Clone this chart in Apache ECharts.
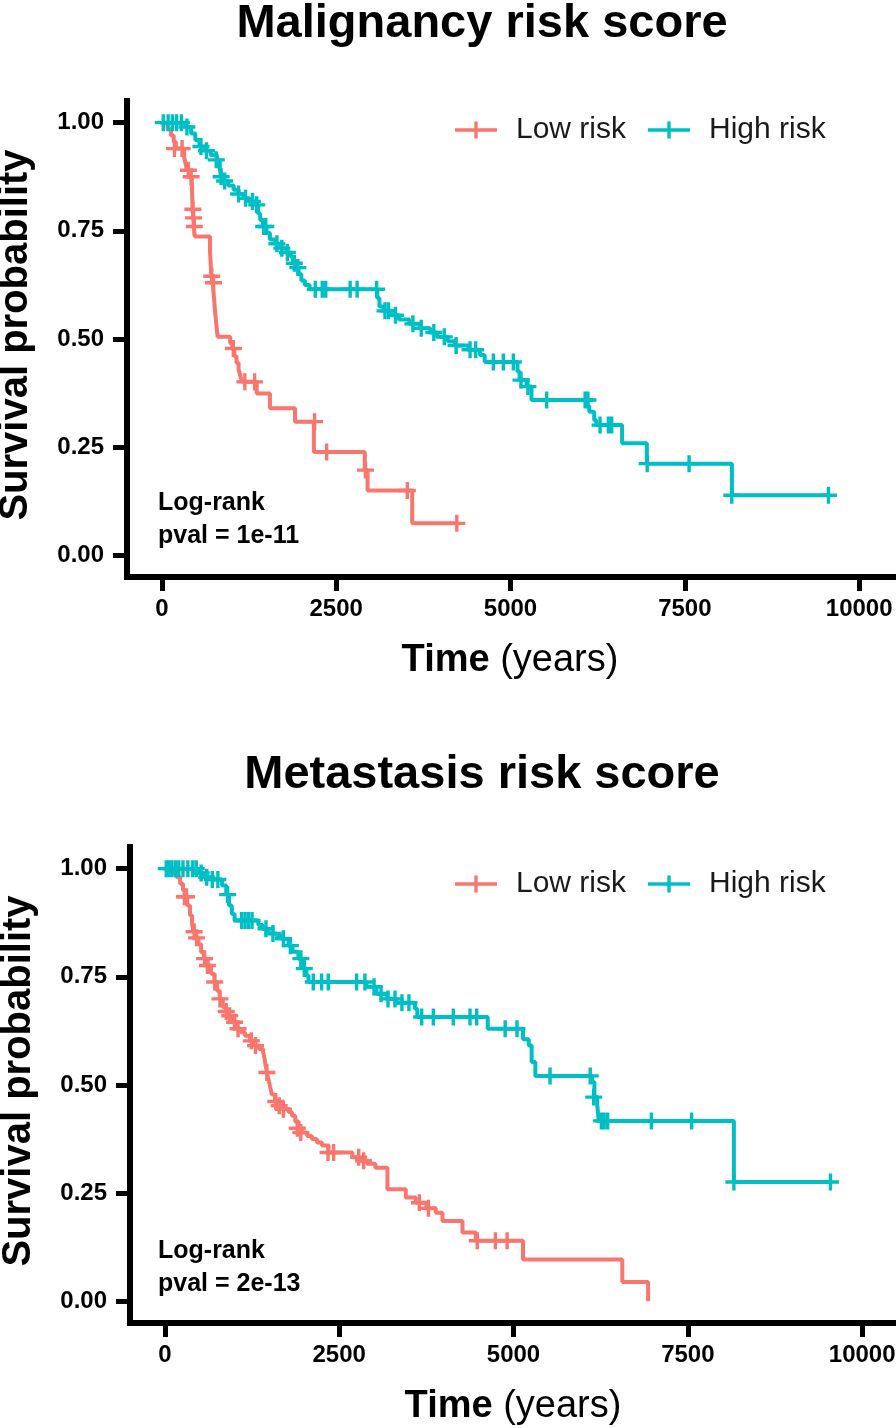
<!DOCTYPE html>
<html><head><meta charset="utf-8">
<script src="https://cdn.jsdelivr.net/npm/echarts@6/dist/echarts.min.js"></script>
<style>html,body{margin:0;padding:0;background:#fff}#c{width:896px;height:1428px}</style>
</head><body><div id="c"></div>
<script>
const xTicks = [0, 2500, 5000, 7500, 10000];
const yTicks = [0, 0.25, 0.5, 0.75, 1];
const titles = ['Malignancy risk score', 'Metastasis risk score'];
const pvals = ['pval = 1e-11', 'pval = 2e-13'];
const groups = ['Low risk', 'High risk'];

// Malignancy – Low risk
const malLowSteps = [[0,1],[80,0.985],[130,0.97],[170,0.955],[200,0.94],[320,0.92],[340,0.905],[360,0.89],[400,0.875],[430,0.862],[440,0.80],[450,0.78],[460,0.76],[470,0.737],[690,0.705],[700,0.675],[710,0.645],[730,0.63],[750,0.59],[765,0.56],[780,0.535],[800,0.505],[980,0.49],[1010,0.478],[1040,0.46],[1070,0.445],[1100,0.43],[1125,0.415],[1150,0.401],[1360,0.374],[1550,0.34],[1910,0.309],[2180,0.239],[2910,0.197],[2950,0.15],[3590,0.074],[4230,0.074]];
const malLowCensor = [[180,0.94],[290,0.94],[380,0.89],[420,0.875],[445,0.80],[455,0.78],[465,0.76],[715,0.645],[740,0.63],[1025,0.478],[1190,0.401],[1330,0.401],[2190,0.309],[2363,0.239],[2920,0.197],[3520,0.15],[4230,0.074]];
// Malignancy – High risk
const malHighSteps = [[0,1],[340,0.99],[420,0.975],[480,0.96],[540,0.945],[620,0.935],[700,0.925],[790,0.914],[830,0.895],[850,0.875],[880,0.865],[950,0.855],[1030,0.845],[1100,0.835],[1170,0.825],[1250,0.818],[1340,0.81],[1380,0.79],[1410,0.775],[1450,0.76],[1500,0.745],[1550,0.73],[1620,0.72],[1700,0.71],[1790,0.70],[1850,0.69],[1880,0.675],[1920,0.665],[1960,0.65],[2000,0.635],[2050,0.625],[2120,0.615],[3090,0.595],[3120,0.575],[3180,0.565],[3300,0.555],[3400,0.545],[3550,0.535],[3700,0.525],[3850,0.515],[3950,0.505],[4100,0.495],[4200,0.485],[4400,0.475],[4560,0.463],[4630,0.447],[5100,0.425],[5130,0.405],[5230,0.39],[5300,0.359],[6100,0.345],[6130,0.332],[6200,0.3125],[6230,0.301],[6600,0.259],[6955,0.212],[8175,0.139],[9560,0.139]];
const malHighCensor = [[20,1],[90,1],[150,1],[210,1],[280,1],[360,0.99],[560,0.945],[640,0.935],[780,0.914],[850,0.875],[900,0.865],[1100,0.835],[1200,0.825],[1300,0.818],[1360,0.81],[1460,0.76],[1490,0.76],[1650,0.72],[1720,0.71],[1800,0.70],[1900,0.675],[1950,0.665],[2200,0.615],[2300,0.615],[2350,0.615],[2700,0.615],[2800,0.615],[3080,0.615],[3200,0.565],[3250,0.565],[3350,0.555],[3600,0.535],[3720,0.525],[3900,0.515],[4050,0.505],[4220,0.485],[4420,0.475],[4500,0.475],[4753,0.447],[4897,0.447],[5040,0.447],[5150,0.405],[5250,0.39],[5519,0.359],[6070,0.359],[6110,0.359],[6284,0.301],[6403,0.301],[6451,0.301],[6960,0.212],[7561,0.212],[8173,0.139],[9560,0.139]];

// Metastasis – Low risk
const metLowSteps = [[0,1],[100,0.99],[170,0.98],[220,0.965],[260,0.95],[290,0.935],[320,0.915],[360,0.892],[390,0.872],[410,0.854],[440,0.84],[480,0.825],[520,0.807],[560,0.792],[614,0.776],[660,0.757],[710,0.738],[750,0.718],[786,0.699],[830,0.68],[870,0.67],[906,0.66],[960,0.645],[1026,0.63],[1090,0.622],[1148,0.614],[1220,0.602],[1291,0.591],[1350,0.583],[1410,0.576],[1430,0.56],[1450,0.54],[1463,0.529],[1490,0.51],[1510,0.495],[1535,0.478],[1580,0.462],[1632,0.452],[1678,0.444],[1775,0.4375],[1822,0.429],[1870,0.415],[1920,0.40],[1965,0.39],[2040,0.382],[2109,0.375],[2180,0.367],[2252,0.36],[2348,0.344],[2690,0.333],[2800,0.325],[2900,0.318],[3019,0.309],[3192,0.259],[3455,0.24],[3598,0.228],[3750,0.215],[3885,0.205],[3981,0.186],[4268,0.159],[4459,0.14],[5136,0.097],[6560,0.045],[6930,0.0]];
const metLowCensor = [[280,0.935],[310,0.935],[420,0.854],[455,0.84],[570,0.792],[610,0.776],[715,0.738],[790,0.699],[880,0.67],[930,0.66],[1000,0.645],[1050,0.63],[1240,0.602],[1300,0.591],[1463,0.529],[1590,0.462],[1640,0.452],[1700,0.444],[1900,0.40],[1950,0.39],[2340,0.344],[2420,0.344],[2780,0.333],[2850,0.325],[3650,0.228],[3780,0.215],[4480,0.14],[4740,0.14],[4908,0.14]];
// Metastasis – High risk
const metHighSteps = [[0,1],[480,0.99],[560,0.98],[700,0.975],[820,0.961],[880,0.94],[920,0.915],[960,0.895],[1000,0.88],[1340,0.87],[1400,0.861],[1486,0.85],[1600,0.845],[1678,0.838],[1773,0.822],[1830,0.808],[1915,0.792],[1987,0.769],[2030,0.753],[2060,0.738],[2890,0.727],[3035,0.711],[3180,0.699],[3323,0.69],[3585,0.676],[3620,0.657],[4630,0.63],[5136,0.606],[5218,0.591],[5260,0.553],[5313,0.521],[6126,0.507],[6160,0.472],[6200,0.455],[6222,0.417],[8160,0.276],[9545,0.276]];
const metHighCensor = [[20,1],[60,1],[100,1],[150,1],[200,1],[260,1],[330,1],[400,1],[450,1],[520,0.99],[600,0.98],[680,0.975],[760,0.975],[900,0.94],[1100,0.88],[1150,0.88],[1200,0.88],[1250,0.88],[1450,0.861],[1550,0.85],[1700,0.838],[1800,0.822],[1950,0.792],[2000,0.769],[2128,0.738],[2248,0.738],[2343,0.738],[2750,0.738],[2869,0.738],[3000,0.727],[3100,0.711],[3200,0.699],[3300,0.699],[3400,0.69],[3500,0.69],[3683,0.657],[3850,0.657],[4136,0.657],[4376,0.657],[4472,0.657],[4880,0.63],[5050,0.63],[5524,0.521],[6100,0.521],[6150,0.472],[6260,0.417],[6300,0.417],[6350,0.417],[6977,0.417],[7554,0.417],[8160,0.276],[9545,0.276]];

const RED = '#F8766D', CYAN = '#00BFC4';
const FONT = '"Liberation Sans", Arial, Helvetica, sans-serif';
const crossPath = 'path://M0,6.8 H17 V10.2 H0 Z M6.8,0 H10.2 V17 H6.8 Z';
const legendIcon = 'path://M0,6.8 H42 V10.2 H0 Z M19.3,0 H22.7 V17 H19.3 Z';

const chart = echarts.init(document.getElementById('c'), null, {renderer: 'canvas'});

function kmSeries(name, steps, censor, color, idx) {
  return [
    {name: name, type: 'line', step: 'end', xAxisIndex: idx, yAxisIndex: idx, data: steps,
     showSymbol: false, symbol: 'none', color: color, lineStyle: {color: color, width: 4}, z: 2, animation: false},
    {name: name + ' censor', type: 'scatter', xAxisIndex: idx, yAxisIndex: idx, data: censor,
     symbol: crossPath, symbolSize: 17, itemStyle: {color: color, opacity: 1}, z: 3, animation: false}
  ];
}

function xAxis(idx) {
  return {gridIndex: idx, type: 'value', min: -500, max: 10485,
    axisLine: {show: true, onZero: false, lineStyle: {color: '#000', width: 6, cap: 'square'}},
    axisTick: {show: true, length: 14, customValues: xTicks, lineStyle: {color: '#000', width: 5}},
    axisLabel: {customValues: xTicks, margin: 20, color: '#000', fontSize: 24, fontWeight: 'bold', fontFamily: FONT,
      formatter: v => String(v)},
    splitLine: {show: false},
    name: '{b|Time }{r|(years)}', nameLocation: 'middle', nameGap: 65,
    nameTextStyle: {rich: {
      b: {fontSize: 38, fontWeight: 'bold', color: '#000', fontFamily: FONT},
      r: {fontSize: 38, fontWeight: 'normal', color: '#000', fontFamily: FONT}}}
  };
}
function yAxis(idx) {
  return {gridIndex: idx, type: 'value', min: -0.05, max: 1.05,
    axisLine: {show: true, onZero: false, lineStyle: {color: '#000', width: 6, cap: 'square'}},
    axisTick: {show: true, length: 14, customValues: yTicks, lineStyle: {color: '#000', width: 5}},
    axisLabel: {customValues: yTicks, margin: 23, color: '#000', fontSize: 24, fontWeight: 'bold', fontFamily: FONT,
      formatter: v => v.toFixed(2)},
    splitLine: {show: false},
    name: 'Survival probability', nameLocation: 'middle', nameRotate: 90, nameGap: 91,
    nameTextStyle: {fontSize: 40, fontWeight: 'bold', color: '#000', fontFamily: FONT, padding: [0, 0, 0, 8]}
  };
}
function legend(top) {
  return {left: 450, top: top, itemWidth: 42, itemHeight: 17, itemGap: 22,
    textStyle: {fontSize: 30, color: '#1a1a1a', fontFamily: FONT, padding: [0, 0, 0, 14]},
    data: [{name: groups[0], icon: legendIcon}, {name: groups[1], icon: legendIcon}],
    selectedMode: false};
}
function txt(text, x, y, size, weight, align) {
  return {type: 'text', x: x, y: y, style: {text: text, fontSize: size, fontWeight: weight, fontFamily: FONT,
    fill: '#000', align: align, verticalAlign: 'middle'}};
}

const option = {
  animation: false,
  backgroundColor: '#fff',
  grid: [
    {left: 127, top: 101, width: 766, height: 476, outerBoundsMode: 'none', containLabel: false},
    {left: 130, top: 847, width: 766, height: 476, outerBoundsMode: 'none', containLabel: false}
  ],
  xAxis: [xAxis(0), xAxis(1)],
  yAxis: [yAxis(0), yAxis(1)],
  legend: [legend(110), legend(864)],
  series: [
    ...kmSeries(groups[0], malLowSteps, malLowCensor, RED, 0),
    ...kmSeries(groups[1], malHighSteps, malHighCensor, CYAN, 0),
    ...kmSeries(groups[0], metLowSteps, metLowCensor, RED, 1),
    ...kmSeries(groups[1], metHighSteps, metHighCensor, CYAN, 1)
  ],
  graphic: [
    txt(titles[0], 482, 24, 47, 'bold', 'center'),
    txt(titles[1], 482, 775, 47, 'bold', 'center'),
    txt('Log-rank', 158, 503, 25, 'bold', 'left'),
    txt(pvals[0], 158, 536, 25, 'bold', 'left'),
    txt('Log-rank', 158, 1251, 25, 'bold', 'left'),
    txt(pvals[1], 158, 1284, 25, 'bold', 'left')
  ]
};
chart.setOption(option);
</script></body></html>
